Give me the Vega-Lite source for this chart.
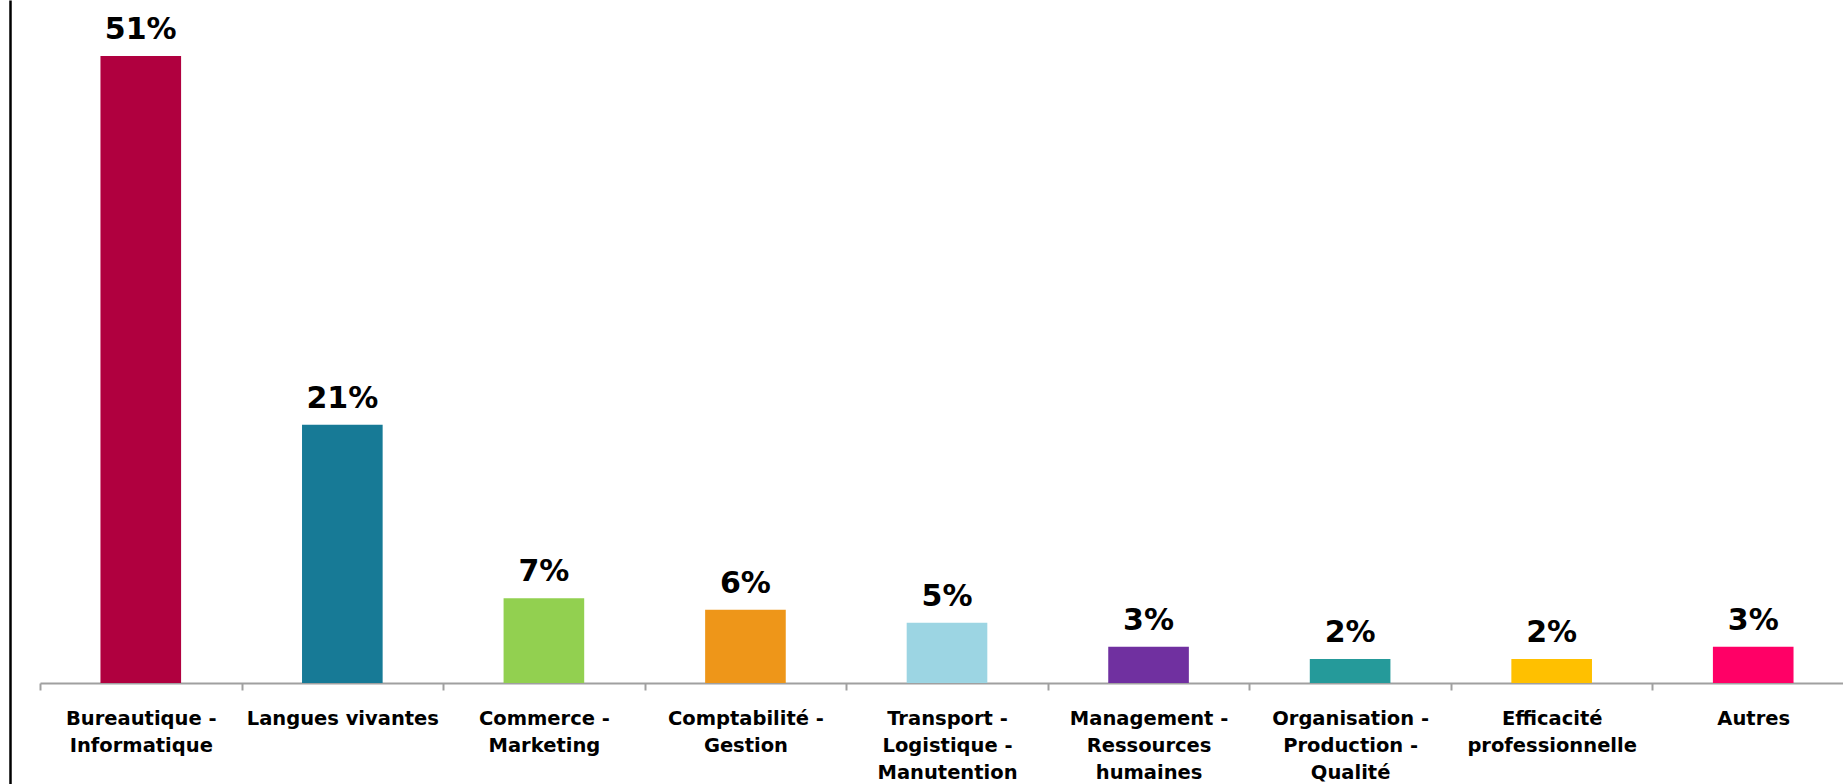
{
  "$schema": "https://vega.github.io/schema/vega-lite/v6.json",
  "autosize": "none",
  "padding": {"left": 40, "top": 0, "right": 0, "bottom": 0},
  "width": 1814,
  "height": 784,
  "background": "white",
  "data": {
    "values": [
      {"domaine": "Bureautique - Informatique", "part": 0.51},
      {"domaine": "Langues vivantes", "part": 0.21},
      {"domaine": "Commerce - Marketing", "part": 0.069},
      {"domaine": "Comptabilité - Gestion", "part": 0.0595},
      {"domaine": "Transport - Logistique - Manutention", "part": 0.049},
      {"domaine": "Management - Ressources humaines", "part": 0.0295},
      {"domaine": "Organisation - Production - Qualité", "part": 0.0195},
      {"domaine": "Efficacité professionnelle", "part": 0.0195},
      {"domaine": "Autres", "part": 0.0295}
    ]
  },
  "encoding": {
    "x": {
      "field": "domaine",
      "type": "nominal",
      "sort": null,
      "scale": {"paddingInner": 0, "paddingOuter": 0},
      "axis": {
        "title": null,
        "offset": -101,
        "labelAngle": 0,
        "labelFont": "DejaVu Sans",
        "labelFontWeight": "bold",
        "labelFontSize": 19.5,
        "labelColor": "#000000",
        "labelLineHeight": 27,
        "labelPadding": 19,
        "labelLimit": 0,
        "tickBand": "extent",
        "tickSize": 7,
        "tickWidth": 2,
        "tickColor": "#A0A0A0",
        "domainColor": "#A0A0A0",
        "domainWidth": 2,
        "labelExpr": "{'Bureautique - Informatique': ['Bureautique -', 'Informatique'], 'Langues vivantes': 'Langues vivantes', 'Commerce - Marketing': ['Commerce -', 'Marketing'], 'Comptabilité - Gestion': ['Comptabilité -', 'Gestion'], 'Transport - Logistique - Manutention': ['Transport -', 'Logistique -', 'Manutention'], 'Management - Ressources humaines': ['Management -', 'Ressources', 'humaines'], 'Organisation - Production - Qualité': ['Organisation -', 'Production -', 'Qualité'], 'Efficacité professionnelle': ['Efficacité', 'professionnelle'], 'Autres': 'Autres'}[datum.label]"
      }
    },
    "y": {
      "field": "part",
      "type": "quantitative",
      "scale": {"domain": [-0.08215, 0.5556], "nice": false, "zero": false},
      "axis": {
        "title": null,
        "labels": false,
        "ticks": false,
        "grid": false,
        "domain": true,
        "domainColor": "#000000",
        "domainWidth": 2.5,
        "offset": 30
      }
    }
  },
  "layer": [
    {
      "mark": {"type": "bar", "width": {"band": 0.4}},
      "encoding": {
        "y2": {"datum": 0},
        "color": {
          "field": "domaine",
          "type": "nominal",
          "legend": null,
          "scale": {
            "domain": ["Bureautique - Informatique", "Langues vivantes", "Commerce - Marketing", "Comptabilité - Gestion", "Transport - Logistique - Manutention", "Management - Ressources humaines", "Organisation - Production - Qualité", "Efficacité professionnelle", "Autres"],
            "range": ["#B0003F", "#177A96", "#92D050", "#EE9619", "#9CD5E3", "#7030A0", "#259A9A", "#FFC000", "#FF0066"]
          }
        }
      }
    },
    {
      "mark": {"type": "text", "font": "DejaVu Sans", "fontWeight": "bold", "fontSize": 30, "color": "#000000", "baseline": "alphabetic", "dy": -17},
      "encoding": {
        "text": {"field": "part", "type": "quantitative", "format": ".0%"}
      }
    }
  ],
  "config": {"view": {"stroke": null}}
}
